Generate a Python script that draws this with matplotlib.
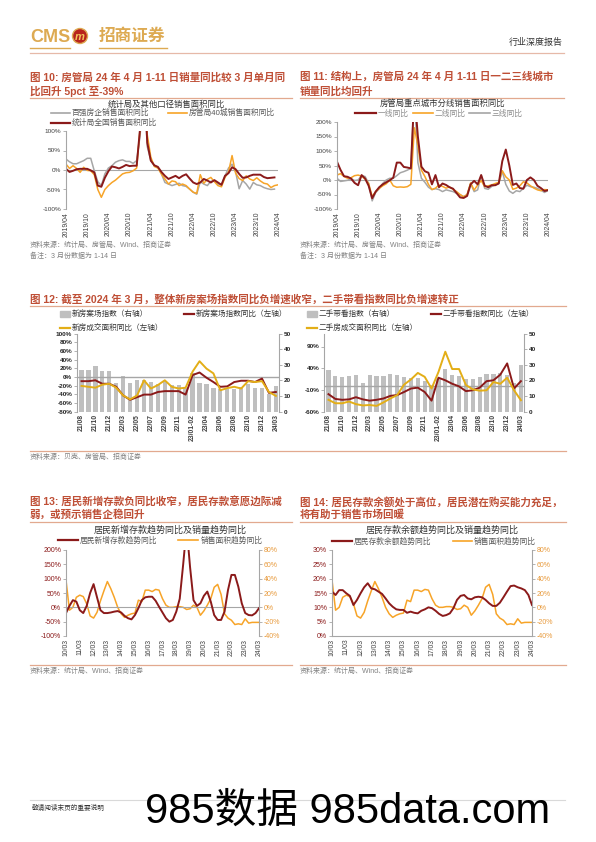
import matplotlib
matplotlib.use('Agg')
import matplotlib.pyplot as plt
from matplotlib.lines import Line2D
from matplotlib.patches import Rectangle, Ellipse
from matplotlib.ticker import FuncFormatter

W, H = 596, 842
plt.rcParams['font.family'] = ['Liberation Sans', 'Noto Sans CJK SC', 'DejaVu Sans']
plt.rcParams['axes.unicode_minus'] = False

RED = '#8B1A1A'
ORANGE = '#F7A428'
GRAY = '#A6A6A6'
GOLD = '#E3AE17'
BARC = '#BFBFBF'
TITLE = '#BF4F36'
RULE = '#E2A98F'
LOGO = '#DDAA52'
TXT = '#404040'

# ---- fig 10: monthly 2019/04 .. 2024/04
c10_ticks = ['2019/04', '2019/10', '2020/04', '2020/10', '2021/04', '2021/10',
             '2022/04', '2022/10', '2023/04', '2023/10', '2024/04']
c10_top100 = [28, 21, 16, 16, 20, 24, 30, 30, -2, -30, -40, -10, 5, 11, 20, 24, 26, 22, 22, 17,
              24, 90, 250, 60, 25, 11, 7, -10, -32, -36, -40, -37, -34, -40, -42, -49, -57, -62, -30, -36,
              -40, -29, -28, -36, -38, -15, 5, 15, -5, -48, -27, -36, -49, -32, -38, -40, -45, -48, -50, -49]
c10_40city = [15, 4, 11, 4, -6, 7, -1, -2, -12, -50, -70, -50, -40, -32, -26, -18, -10, -7, -6, -2,
              5, 110, 250, 90, 33, 9, 5, -10, -23, -36, -28, -30, -40, -36, -40, -49, -57, -60, -12, -34,
              -24, -19, -30, -40, -43, -19, -5, 37, -8, -22, -27, -15, -23, -27, -20, -28, -34, -36, -45, -40, -38]
c10_nbs = [3, -5, -2, 2, 3, 3, 3, -1, -6, -40, -43, -20, -3, 9, 7, 4, 8, 13, 10, 11,
           11, 110, 250, 70, 24, 12, 8, -5, -15, -23, -19, -15, -21, -15, -11, -22, -32, -36, -32, -23,
           -27, -32, -26, -32, -38, -15, -8, 7, 2, -10, -20, -19, -15, -12, -12, -12, -18, -21, -20, -19]

# ---- fig 11: monthly 2019/04 .. 2024/04
c11_tier1 = [63, 35, 13, 11, 5, -10, -18, 17, 5, -20, -63, -40, -25, -15, -8, -1, 8, 60, 60, 45,
             43, 40, 300, 150, 46, 30, 25, -15, 17, -25, -12, -17, -25, -30, -45, -60, -62, -55, -15, -3,
             -15, 17, -20, -25, -18, -18, -12, 65, 105, 50, -17, -12, -28, -30, 0, 9, 0, -20, -28, -38, -35]
c11_tier2 = [17, 22, 12, 6, 8, 15, 17, 13, 3, -12, -57, -40, -29, -20, -13, 0, -20, -25, -24, -25,
             -23, -15, 180, 120, 34, 12, -15, -33, -28, -17, -22, -28, -24, -32, -40, -50, -58, -50, -10, -35,
             -17, -2, -23, -20, -17, -12, -8, 32, 11, 0, -32, -28, -20, -6, -10, -20, -28, -34, -37, -33, -34]
c11_tier3 = [6, -5, -3, -1, 5, -2, 0, 15, 12, -12, -72, -43, -30, -12, 0, 6, 6, 15, 25, 29,
             34, 40, 300, 60, 6, -8, -25, -33, -30, -33, -40, -34, -37, -40, -46, -51, -57, -51, -12, -40,
             -34, 17, -29, -32, -22, -17, -12, 30, -15, -38, -46, -37, -40, -29, -18, -23, -25, -29, -35, -43, -36]

# ---- fig 12
c12_cats = ['21/08', '21/09', '21/10', '21/11', '21/12', '22/01-02', '22/03', '22/04', '22/05', '22/06',
            '22/07', '22/08', '22/09', '22/10', '22/11', '22/12', '23/01-02', '23/03', '23/04', '23/05',
            '23/06', '23/07', '23/08', '23/09', '23/10', '23/11', '23/12', '24/01-02', '24/03']
new_index = [26.9, 26.9, 29.1, 25.9, 25.9, 18.3, 22.6, 18.5, 20.0, 20.0, 19.0, 17.9, 19.4, 17.2, 17.2,
             15.1, 24.4, 18.3, 17.9, 15.1, 14.2, 14.7, 14.7, 15.7, 17.9, 15.1, 15.1, 11.4, 16.2]
new_index_yoy = [-10, -10, -8, -16, -16, -23, -43, -53, -47, -41, -41, -35, -33, -33, -33,
                 -41, 4, 10, -2, -12, -23, -22, -12, -9, -9, -12, -4, -37, -35]
new_area_yoy = [-21, -23, -25, -18, -16, -25, -43, -52, -43, -8, -27, -19, -8, -23, -27,
                -25, 12, 36, 19, 8, -31, -26, -23, -27, -10, -12, -10, -35, -44]
used_index = [26.4, 23.0, 22.0, 22.6, 23.2, 18.4, 23.6, 22.8, 23.0, 24.3, 23.6, 22.4, 21.7, 21.5, 19.8,
              17.0, 21.0, 27.0, 23.6, 22.6, 21.0, 21.0, 22.0, 24.3, 24.3, 24.7, 23.2, 18.0, 30.0]
used_index_yoy = [-20, -31, -33, -32, -27, -32, -35, -33, -30, -24, -22, -15, -7, -5, -15,
                  -35, 18, 12, 4, -2, -13, -11, -5, 10, 12, 25, 51, -7, 10]
used_area_yoy = [-33, -41, -41, -37, -43, -46, -45, -47, -39, -30, -22, 2, 14, 29, 20,
                 -7, 31, 78, 38, 38, 1, -9, -12, -11, 8, 4, 18, -11, -34]

# ---- fig 13/14: quarterly 2010/03 .. 2024/03
year_ticks = ['10/03', '11/03', '12/03', '13/03', '14/03', '15/03', '16/03', '17/03',
              '18/03', '19/03', '20/03', '21/03', '22/03', '23/03', '24/03']
sales_trend = [38, -4, 0, 14, 17, 15, 5, -12, -15, -7, 9, 23, 36, 26, 14, 0, -9, -14, -11, -9,
               -8, 10, 8, 24, 24, 22, 25, 24, 12, 3, 0, 0, 1, 1, 0, -3, -2, 3, 0, -11,
               -5, 3, 12, 28, 32, 18, -9, -15, -18, -24, -23, -24, -16, -22, -21, -21, -21]
new_deposit = [-20, 5, 25, 20, -10, -20, 5, 50, 81, 35, -10, -20, -20, -18, -15, -13, -18, -30, -38, -42,
               -27, -3, 25, 35, 37, 37, 23, 2, -18, -38, -50, -44, -15, 30, 150, 280, 140, 25, 5, 14,
               40, 55, 20, -27, -44, -44, -15, 60, 113, 113, 72, 14, -20, -27, -28, -20, -3]
deposit_bal = [15.5, 14.3, 16, 16, 14.9, 14, 10.8, 12.6, 14.9, 17, 18.4, 16.6, 16.3, 15.5, 14.7, 13.1,
               11.4, 10.2, 9.3, 9.1, 9.1, 8.1, 8.5, 8.1, 7.9, 8.8, 9.3, 10, 9.7, 8.8, 7.7, 7,
               7.3, 7.9, 9.7, 12.6, 14, 14.3, 13.1, 12.8, 13.5, 13.7, 13.5, 12.6, 11.4, 10.5, 10.5, 11.6,
               13.5, 15.5, 17.4, 17.6, 17, 16.6, 16, 14.3, 10.8]

fig = plt.figure(figsize=(W / 100, H / 100), dpi=100)
pct = FuncFormatter(lambda v, p: f'{v:.0f}%')
TICK = 4.6


def frame(x0, y0, x1, y1):
    return fig.add_axes([x0 / W, 1 - y1 / H, (x1 - x0) / W, (y1 - y0) / H])


def put(x, y, s, size=5, color=TXT, **kw):
    kw.setdefault('va', 'center')
    fig.text(x / W, 1 - y / H, s, fontsize=size, color=color, **kw)


def rule(x0, x1, y, color=RULE, lw=0.9):
    fig.add_artist(Line2D([x0 / W, x1 / W], [1 - y / H, 1 - y / H], color=color, lw=lw))


def key_box(x0, x1, y, color):
    fig.add_artist(Rectangle((x0 / W, 1 - (y + 3) / H), (x1 - x0) / W, 6 / H, color=color))


def base_style(ax, bold=False, lc=TXT):
    for s in ['top', 'bottom', 'right']:
        ax.spines[s].set_visible(False)
    ax.spines['left'].set_color(GRAY)
    ax.spines['left'].set_linewidth(0.8)
    ax.tick_params(axis='y', labelsize=TICK, colors=GRAY, labelcolor=lc, length=2, width=0.6, pad=1.5)
    ax.tick_params(axis='x', labelsize=4.9, colors=TXT, length=0, pad=2)
    if bold:
        for lab in ax.get_yticklabels() + ax.get_xticklabels():
            lab.set_fontweight('bold')


# ---------------- header / footer
put(30, 37, 'CMS', size=13, color=LOGO, weight='bold')
fig.add_artist(Ellipse((80 / W, 1 - 36 / H), 15 / W, 15 / H, facecolor='#B8241C', edgecolor=LOGO, lw=1))
put(80, 36.5, 'm', size=8, color='#F2C55C', weight='bold', ha='center', style='italic')
put(99, 36, '招商证券', size=12, color=LOGO, weight='bold', family=['Noto Sans CJK SC'])
rule(30, 70, 47.5, color=LOGO, lw=1.0)
rule(99, 167, 47.5, color=LOGO, lw=1.0)
put(563, 42, '行业深度报告', size=6.5, color='#333333', ha='right', family=['Noto Sans CJK SC'])
rule(30, 564, 53, color='#E6B9A8', lw=0.9)

rule(30, 565, 800, color='#D9D9D9', lw=0.8)
put(32, 808, '敬请阅读末页的重要说明', size=4.8, color='#333333')
put(145, 812, '985数据 985data.com', size=30, color='black')

# ---------------- chart 10
put(30, 77, '图 10: 房管局 24 年 4 月 1-11 日销量同比较 3 月单月同', size=7.6, color=TITLE, weight='bold')
put(30, 91, '比回升 5pct 至-39%', size=7.6, color=TITLE, weight='bold')
rule(30, 292, 98)
put(166, 105, '统计局及其他口径销售面积同比', size=6, color='#333333', ha='center')
rule(51, 70, 113, color=GRAY, lw=1.2)
put(72, 113, '百强房企销售面积同比', size=5.6, color='#595959')
rule(168, 187, 113, color=ORANGE, lw=1.2)
put(189, 113, '房管局40城销售面积同比', size=5.6, color='#595959')
rule(51, 70, 123, color=RED, lw=1.6)
put(72, 123, '统计局全国销售面积同比', size=5.6, color='#595959')

ax = frame(66, 131, 278, 209)
ax.axhline(0, color=GRAY, lw=0.8)
ax.plot(range(len(c10_top100)), c10_top100, color=GRAY, lw=1.1)
ax.plot(range(len(c10_40city)), c10_40city, color=ORANGE, lw=1.1)
ax.plot(range(len(c10_nbs)), c10_nbs, color=RED, lw=1.4)
ax.set_xlim(0, 60)
ax.set_ylim(-100, 100)
ax.set_yticks(range(-100, 101, 50))
ax.yaxis.set_major_formatter(pct)
ax.set_xticks(range(0, 61, 6))
ax.set_xticklabels(c10_ticks, rotation=90)
base_style(ax)
put(30, 245, '资料来源：统计局、房管局、Wind、招商证券', size=5, color='#808080')
put(30, 256, '备注：3 月份数据为 1-14 日', size=5, color='#808080')

# ---------------- chart 11
put(300, 77, '图 11: 结构上，房管局 24 年 4 月 1-11 日一二三线城市', size=7.6, color=TITLE, weight='bold')
put(300, 91, '销量同比均回升', size=7.6, color=TITLE, weight='bold')
rule(300, 564, 98)
put(443, 104, '房管局重点城市分线销售面积同比', size=6, color='#333333', ha='center')
rule(355, 376, 113, color=RED, lw=1.6)
put(378, 113.5, '一线同比', size=5.6, color='#8C8C8C')
rule(413, 433, 113, color=ORANGE, lw=1.2)
put(435, 113.5, '二线同比', size=5.6, color='#8C8C8C')
rule(469, 490, 113, color=GRAY, lw=1.2)
put(492, 113.5, '三线同比', size=5.6, color='#8C8C8C')

ax = frame(337, 122, 548, 209)
ax.axhline(0, color=GRAY, lw=0.8)
ax.plot(range(len(c11_tier3)), c11_tier3, color=GRAY, lw=1.1)
ax.plot(range(len(c11_tier2)), c11_tier2, color=ORANGE, lw=1.1)
ax.plot(range(len(c11_tier1)), c11_tier1, color=RED, lw=1.4)
ax.set_xlim(0, 60)
ax.set_ylim(-100, 200)
ax.set_yticks(range(-100, 201, 50))
ax.yaxis.set_major_formatter(pct)
ax.set_xticks(range(0, 61, 6))
ax.set_xticklabels(c10_ticks, rotation=90)
base_style(ax)
put(300, 245, '资料来源：统计局、房管局、Wind、招商证券', size=5, color='#808080')
put(300, 256, '备注：3 月份数据为 1-14 日', size=5, color='#808080')

# ---------------- chart 12
put(30, 299, '图 12: 截至 2024 年 3 月，整体新房案场指数同比负增速收窄，二手带看指数同比负增速转正',
    size=7.6, color=TITLE, weight='bold')
rule(30, 566, 305.5)


def panel12(x0, x1, bars, yoy, area, labels, ylim, yticks):
    lx = x0 - 17
    key_box(lx, lx + 10, 314, BARC)
    put(lx + 12, 314, labels[0], size=5.5, color='#333333')
    rule(lx + 124, lx + 134, 314, color=RED, lw=1.6)
    put(lx + 136, 314, labels[1], size=5.5, color='#333333')
    rule(lx, lx + 10, 327.5, color=GOLD, lw=1.6)
    put(lx + 12, 327.5, labels[2], size=5.5, color='#333333')

    ax = frame(x0, 333.5, x1, 411.5)
    axr = ax.twinx()
    axr.bar(range(len(bars)), bars, width=0.62, color=BARC)
    axr.set_ylim(0, 50)
    axr.set_yticks(range(0, 51, 10))
    ax.set_zorder(axr.get_zorder() + 1)
    ax.patch.set_visible(False)
    ax.axhline(0, color=GRAY, lw=1.0)
    ax.plot(range(len(yoy)), yoy, color=RED, lw=1.4)
    ax.plot(range(len(area)), area, color=GOLD, lw=1.4)
    ax.set_ylim(*ylim)
    ax.set_yticks(yticks)
    ax.yaxis.set_major_formatter(pct)
    ax.set_xlim(-0.65, 28.45)
    ax.set_xticks(range(0, len(c12_cats), 2))
    ax.set_xticklabels(c12_cats[::2], rotation=90)
    base_style(ax, bold=True, lc='#262626')
    for s in ['top', 'bottom', 'left']:
        axr.spines[s].set_visible(False)
    axr.spines['right'].set_color(GRAY)
    axr.spines['right'].set_linewidth(0.8)
    axr.tick_params(axis='y', labelsize=TICK, colors=GRAY, labelcolor='#262626', length=2, width=0.6, pad=1.5)
    for lab in axr.get_yticklabels():
        lab.set_fontweight('bold')


panel12(77, 279, new_index, new_index_yoy, new_area_yoy,
        ['新房案场指数（右轴）', '新房案场指数同比（左轴）', '新房成交面积同比（左轴）'],
        (-80, 100), range(-80, 101, 20))
panel12(324, 524, used_index, used_index_yoy, used_area_yoy,
        ['二手带看指数（右轴）', '二手带看指数同比（左轴）', '二手房成交面积同比（左轴）'],
        (-60, 120), [-60, -10, 40, 90])
rule(30, 566, 451.5)
put(30, 457, '资料来源：贝壳、房管局、招商证券', size=5, color='#808080')


# ---------------- chart 13 / 14
def panel_dep(x0, x1, dep, dep_ylim, dep_ticks, zero_line):
    ax = frame(x0, 550, x1, 636)
    axr = ax.twinx()
    q = [3 * i for i in range(len(sales_trend))]
    axr.plot(q, sales_trend, color=ORANGE, lw=1.1)
    axr.set_ylim(-40, 80)
    axr.set_yticks(range(-40, 81, 20))
    axr.yaxis.set_major_formatter(pct)
    ax.set_zorder(axr.get_zorder() + 1)
    ax.patch.set_visible(False)
    if zero_line:
        ax.axhline(0, color=GRAY, lw=0.8)
    ax.plot([3 * i for i in range(len(dep))], dep, color=RED, lw=1.4)
    ax.set_ylim(*dep_ylim)
    ax.set_yticks(dep_ticks)
    ax.yaxis.set_major_formatter(pct)
    ax.set_xlim(0, 168)
    ax.set_xticks(range(0, 169, 12))
    ax.set_xticklabels(year_ticks, rotation=90)
    base_style(ax, lc=RED)
    ax.tick_params(axis='y', labelsize=5)
    if not zero_line:
        ax.spines['bottom'].set_visible(True)
        ax.spines['bottom'].set_color(GRAY)
        ax.spines['bottom'].set_linewidth(0.8)
    for s in ['top', 'bottom', 'left']:
        axr.spines[s].set_visible(False)
    axr.spines['right'].set_color(GRAY)
    axr.spines['right'].set_linewidth(0.8)
    axr.tick_params(axis='y', labelsize=5, colors=GRAY, labelcolor='#E89A3C', length=2, width=0.6, pad=1.5)


put(30, 502, '图 13: 居民新增存款负同比收窄，居民存款意愿边际减', size=7.6, color=TITLE, weight='bold')
put(30, 515, '弱，或预示销售企稳回升', size=7.6, color=TITLE, weight='bold')
rule(30, 292, 522)
put(170, 530, '居民新增存款趋势同比及销量趋势同比', size=6.5, color='#333333', ha='center')
rule(58, 78, 540, color=RED, lw=1.6)
put(80, 540.5, '居民新增存款趋势同比', size=5.6, color='#595959')
rule(178, 198, 540, color=ORANGE, lw=1.2)
put(201, 540.5, '销售面积趋势同比', size=5.6, color='#595959')
panel_dep(66, 259, new_deposit, (-100, 200), range(-100, 201, 50), True)
rule(30, 292, 665)
put(30, 671, '资料来源：统计局、Wind、招商证券', size=5, color='#808080')

put(300, 502, '图 14: 居民存款余额处于高位，居民潜在购买能力充足，', size=7.6, color=TITLE, weight='bold')
put(300, 515, '将有助于销售市场回暖', size=7.6, color=TITLE, weight='bold')
rule(300, 566, 522)
put(442, 530, '居民存款余额趋势同比及销量趋势同比', size=6.5, color='#333333', ha='center')
rule(332, 352, 541, color=RED, lw=1.6)
put(354, 541.5, '居民存款余额趋势同比', size=5.6, color='#595959')
rule(453, 472, 541, color=ORANGE, lw=1.2)
put(474, 541.5, '销售面积趋势同比', size=5.6, color='#595959')
panel_dep(332, 532, deposit_bal, (0, 30), range(0, 31, 5), False)
rule(300, 566, 665)
put(300, 671, '资料来源：统计局、Wind、招商证券', size=5, color='#808080')

fig.savefig('out.png', dpi=100)
